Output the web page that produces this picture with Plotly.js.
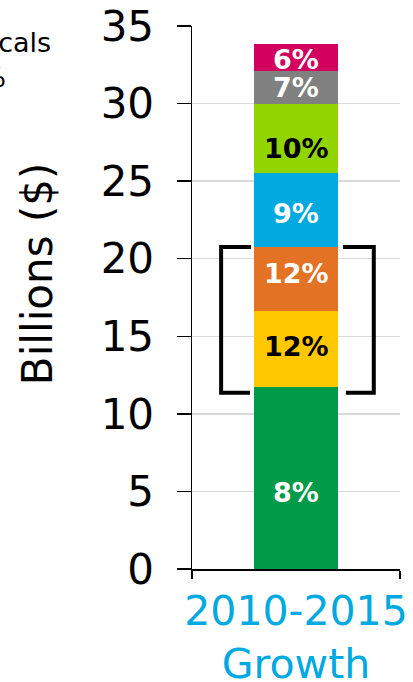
<!DOCTYPE html>
<html>
<head>
<meta charset="utf-8">
<script src="https://cdn.plot.ly/plotly-3.0.1.min.js"></script>
<style>
  html, body { margin: 0; padding: 0; background: #fff; }
  #chart { width: 413px; height: 682px; }
</style>
</head>
<body>
<div id="chart"></div>
<script>
// ---- data ----
var categories = ['2010-2015<br>Growth'];
var segmentNames = ['Segment 1', 'Segment 2', 'Segment 3', 'Segment 4', 'Segment 5', 'Segment 6', 'Segment 7'];
var segmentValues = [11.7, 4.9, 4.15, 4.75, 4.5, 2.1, 1.75];
var segmentLabels = ['8%', '12%', '12%', '9%', '10%', '7%', '6%'];
var yTickVals = [0, 5, 10, 15, 20, 25, 30, 35];
var yTickText = ['0', '5', '10', '15', '20', '25', '30', '35'];
var sideTextLines = ['Biologicals', '10%'];

// ---- styles ----
var segmentColors = ['#009B48', '#FFC800', '#E37224', '#00A9E0', '#92D400', '#808080', '#D2005F'];
var labelColors = ['#ffffff', '#000000', '#ffffff', '#ffffff', '#000000', '#ffffff', '#ffffff'];
var labelShiftPx = [-14, 3, 6, -3, -10, 0, -2];
var FONT = '"DejaVu Sans", Verdana, sans-serif';

var traces = segmentValues.map(function (v, i) {
  return {
    type: 'bar',
    x: categories,
    y: [v],
    name: segmentNames[i],
    marker: { color: segmentColors[i], line: { width: 0 } },
    width: 0.404,
    hoverinfo: 'skip'
  };
});

var annotations = [];
var base = 0;
segmentValues.forEach(function (v, i) {
  annotations.push({
    x: categories[0], y: base + v / 2, xref: 'x', yref: 'y',
    text: '<b>' + segmentLabels[i] + '</b>',
    showarrow: false, xanchor: 'center', yanchor: 'middle',
    yshift: labelShiftPx[i],
    font: { family: FONT, size: 27, color: labelColors[i] }
  });
  base += v;
});

// y axis title
annotations.push({
  xref: 'paper', yref: 'paper', x: 0, y: 0.543, xshift: -155,
  text: 'Billions ($)', textangle: -90, showarrow: false,
  xanchor: 'center', yanchor: 'middle',
  font: { family: FONT, size: 42, color: '#000' }
});
// cut-off side text
annotations.push({
  xref: 'paper', yref: 'paper', x: 0, y: 0.9705, xshift: -139,
  text: sideTextLines[0], showarrow: false, xanchor: 'right', yanchor: 'middle',
  font: { family: FONT, size: 27, color: '#000' }
});
annotations.push({
  xref: 'paper', yref: 'paper', x: 0, y: 0.9045, xshift: -184,
  text: sideTextLines[1], showarrow: false, xanchor: 'right', yanchor: 'middle',
  font: { family: FONT, size: 27, color: '#000' }
});

// bracket around the middle segments
var bracketTop = 20.76, bracketBottom = 11.36;
var shapes = [
  { type: 'path', xref: 'x', yref: 'y',
    path: 'M -0.216,' + bracketTop + ' L -0.36,' + bracketTop + ' L -0.36,' + bracketBottom + ' L -0.221,' + bracketBottom,
    line: { color: '#000', width: 4 } },
  { type: 'path', xref: 'x', yref: 'y',
    path: 'M 0.226,' + bracketTop + ' L 0.374,' + bracketTop + ' L 0.374,' + bracketBottom + ' L 0.240,' + bracketBottom,
    line: { color: '#000', width: 4 } }
];

var layout = {
  width: 413, height: 682,
  margin: { l: 192, r: 13, t: 26, b: 113, pad: 0 },
  paper_bgcolor: '#fff', plot_bgcolor: '#fff',
  barmode: 'stack',
  showlegend: false,
  font: { family: FONT, color: '#000' },
  xaxis: {
    type: 'category',
    range: [-0.5, 0.5],
    showline: true, linecolor: '#000', linewidth: 1.5,
    ticks: 'outside', ticklen: 8, tickwidth: 1.5, tickcolor: '#000',
    tickson: 'boundaries',
    tickangle: 0,
    ticklabelstandoff: 5,
    showgrid: false, zeroline: false,
    tickfont: { family: FONT, size: 41, color: '#00A9E0' },
    fixedrange: true
  },
  yaxis: {
    range: [0, 35],
    tickvals: yTickVals, ticktext: yTickText,
    showline: true, linecolor: '#000', linewidth: 1.5,
    ticks: 'outside', ticklen: 14, tickwidth: 1.5, tickcolor: '#000',
    ticklabelstandoff: 14,
    showgrid: true, gridcolor: '#d9d9d9', gridwidth: 1.5,
    zeroline: false,
    tickfont: { family: FONT, size: 42, color: '#000' },
    fixedrange: true
  },
  annotations: annotations,
  shapes: shapes
};

Plotly.newPlot('chart', traces, layout, { displayModeBar: false, staticPlot: true });
</script>
</body>
</html>
